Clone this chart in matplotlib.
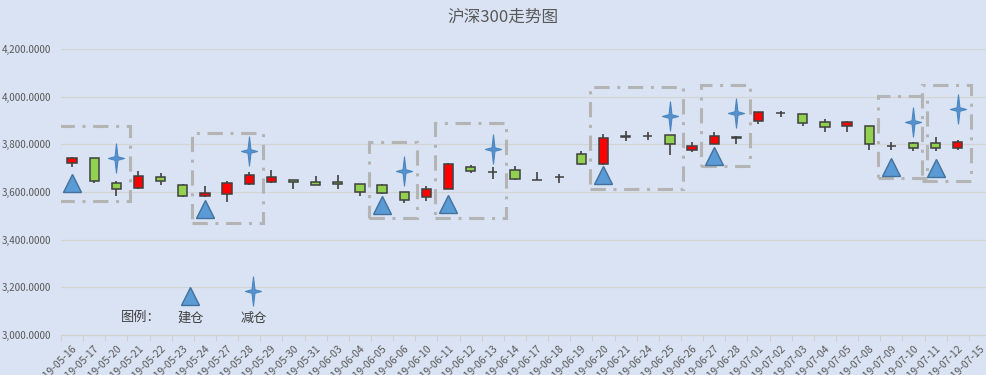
import matplotlib
matplotlib.use('Agg')
import matplotlib.pyplot as plt
import numpy as np
from matplotlib.path import Path
from matplotlib.patches import Rectangle

plt.rcParams['font.family'] = ['Noto Sans CJK SC', 'DejaVu Sans']

dates = ['2019-05-16', '2019-05-17', '2019-05-20', '2019-05-21', '2019-05-22', '2019-05-23',
         '2019-05-24', '2019-05-27', '2019-05-28', '2019-05-29', '2019-05-30', '2019-05-31',
         '2019-06-03', '2019-06-04', '2019-06-05', '2019-06-06', '2019-06-10', '2019-06-11',
         '2019-06-12', '2019-06-13', '2019-06-14', '2019-06-17', '2019-06-18', '2019-06-19',
         '2019-06-20', '2019-06-21', '2019-06-24', '2019-06-25', '2019-06-26', '2019-06-27',
         '2019-06-28', '2019-07-01', '2019-07-02', '2019-07-03', '2019-07-04', '2019-07-05',
         '2019-07-08', '2019-07-09', '2019-07-10', '2019-07-11', '2019-07-12', '2019-07-15']

opens = [3720, 3741, 3636, 3618, 3662, 3628, 3582, 3590, 3632, 3641, 3650, 3642,
         3642, 3632, 3628, 3600, 3578, 3614, 3705, 3685, 3692, 3652, 3664, 3759,
         3716, 3833, 3837, 3839, 3777, 3803, 3829, 3897, 3933, 3927, 3892, 3876,
         3876, 3795, 3804, 3804, 3785, np.nan]
highs = [3748, 3744, 3646, 3688, 3681, 3634, 3624, 3646, 3684, 3691, 3650, 3667,
         3670, 3633, 3634, 3602, 3625, 3723, 3713, 3706, 3709, 3684, 3676, 3772,
         3843, 3856, 3852, 3840, 3810, 3852, 3835, 3935, 3941, 3928, 3906, 3899,
         3877, 3810, 3810, 3829, 3817, np.nan]
lows = [3706, 3636, 3583, 3611, 3631, 3578, 3580, 3557, 3628, 3636, 3611, 3628,
        3611, 3583, 3592, 3555, 3563, 3612, 3681, 3653, 3650, 3649, 3636, 3712,
        3714, 3815, 3818, 3754, 3769, 3800, 3800, 3887, 3916, 3876, 3853, 3853,
        3776, 3776, 3771, 3773, 3775, np.nan]
closes = [3741, 3647, 3614, 3666, 3647, 3582, 3594, 3636, 3670, 3663, 3641, 3628,
          3634, 3599, 3594, 3565, 3613, 3717, 3689, 3683, 3653, 3650, 3662, 3716,
          3827, 3830, 3834, 3800, 3792, 3834, 3826, 3934, 3930, 3891, 3871, 3892,
          3800, 3792, 3783, 3783, 3808, np.nan]

# 建仓 / 减仓 signals (category index, price)
buy_idx = [0, 6, 14, 17, 24, 29, 37, 39]
buy_val = [3638, 3527, 3545, 3550, 3671, 3751, 3705, 3701]
sell_idx = [2, 8, 15, 19, 27, 30, 38, 40]
sell_val = [3741, 3773, 3690, 3780, 3919, 3931, 3892, 3950]
# holding periods, price range of the dashed frame
box_low = [3563, 3471, 3491, 3491, 3611, 3709, 3659, 3646]
box_high = [3877, 3849, 3810, 3891, 4042, 4049, 4003, 4049]

bg = '#dae3f3'
fig = plt.figure(figsize=(9.87, 3.75), dpi=100, facecolor=bg)
ax = fig.add_axes([61 / 987, 40 / 375, 930 / 987, 286 / 375], facecolor=bg)

x = np.arange(len(dates))
o = np.array(opens)
c = np.array(closes)
h = np.array(highs)
l = np.array(lows)
up = c >= o
colors = np.where(up, '#ff0000', '#92d050')
body_lo = np.minimum(o, c)
body_h = np.maximum(np.abs(c - o), 1.5)

ax.vlines(x, l, h, color='#404040', lw=1.2, zorder=2)
ax.bar(x, body_h, bottom=body_lo, width=0.42, color=colors, edgecolor='#404040',
       linewidth=1.1, zorder=3)

# star marker
star = Path([(0, 1), (0.1, 0.12), (0.55, 0), (0.1, -0.12), (0, -1), (-0.1, -0.12),
             (-0.55, 0), (-0.1, 0.12), (0, 1)],
            [Path.MOVETO] + [Path.LINETO] * 7 + [Path.CLOSEPOLY])

ax.plot(buy_idx, buy_val, ls='none', marker='^', ms=13.5, mfc='#5b9bd5', mec='#41719c',
        mew=1, zorder=5)
ax.plot(sell_idx, sell_val, ls='none', marker=star, ms=21, mfc='#5592cf', mec='#4a86c0',
        mew=0.8, zorder=5)

pad = 0.6
for b, s, lo, hi in zip(buy_idx, sell_idx, box_low, box_high):
    ax.add_patch(Rectangle((b - pad, lo), s - b + 2 * pad, hi - lo, fill=False,
                           edgecolor='#b4b4b4', lw=2.2, ls=(0, (5, 2.5, 1, 2.5)),
                           zorder=4))

ax.set_xlim(-0.5, len(dates) - 0.5)
ax.set_ylim(3000, 4200)
ax.set_yticks(np.arange(3000, 4201, 200))
ax.set_yticklabels(['{:,.4f}'.format(v) for v in np.arange(3000, 4201, 200)],
                   fontsize=7, color='#595959')
ax.yaxis.grid(True, color='#d4d4d4', lw=0.9)
ax.set_axisbelow(True)
ax.tick_params(axis='y', length=0, pad=7)

ax.set_xticks(x)
ax.set_xticklabels(dates, rotation=45, ha='right', rotation_mode='anchor',
                   fontsize=7.5, color='#595959')
ax.tick_params(axis='x', which='major', length=0, pad=6)
ax.set_xticks(np.arange(-0.5, len(dates), 1), minor=True)
ax.tick_params(axis='x', which='minor', length=4, color='#d0d0d0', width=0.8)

for sp in ['top', 'right', 'left']:
    ax.spines[sp].set_visible(False)
ax.spines['bottom'].set_color('#d0d0d0')
ax.spines['bottom'].set_linewidth(0.9)

fig.text(503 / 987, 1 - 17 / 375, '沪深300走势图', ha='center', va='center', fontsize=12,
         color='#595959')

# legend drawn in the corner
fig.text(141 / 987, 1 - 317 / 375, '图例：', ha='center', va='center', fontsize=9.5,
         color='#404040')
fig.text(191 / 987, 1 - 318 / 375, '建仓', ha='center', va='center', fontsize=9.5,
         color='#404040')
fig.text(254 / 987, 1 - 318 / 375, '减仓', ha='center', va='center', fontsize=9.5,
         color='#404040')
fig.lines.append(plt.Line2D([190 / 987], [1 - 296 / 375], transform=fig.transFigure,
                            marker='^', ms=13.5, mfc='#5b9bd5', mec='#41719c', mew=1))
fig.lines.append(plt.Line2D([253 / 987], [1 - 291 / 375], transform=fig.transFigure,
                            marker=star, ms=21, mfc='#5592cf', mec='#4a86c0', mew=0.8))

fig.savefig('out.png', dpi=100, facecolor=bg)
